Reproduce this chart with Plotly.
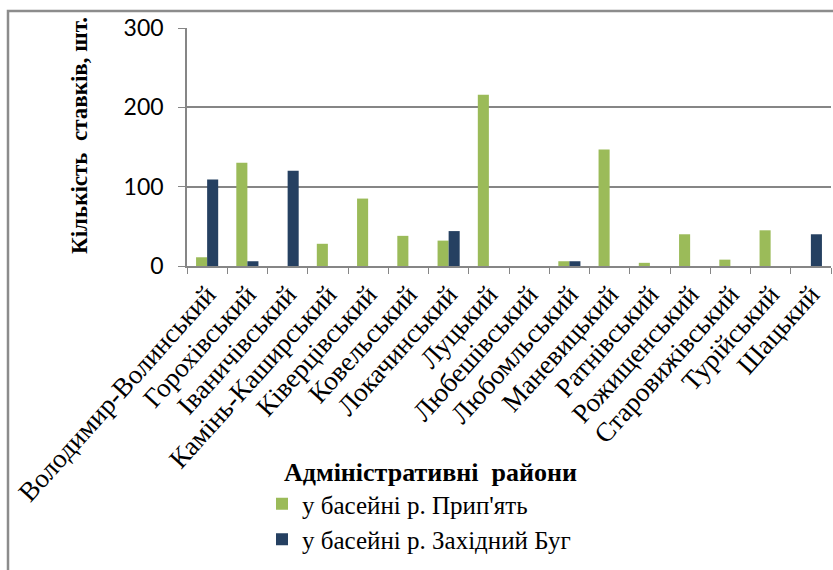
import plotly.graph_objects as go

districts = ["Володимир-Волинський", "Горохівський", "Іваничівський", "Камінь-Каширський",
             "Ківерцівський", "Ковельський", "Локачинський", "Луцький", "Любешівський",
             "Любомльський", "Маневицький", "Ратнівський", "Рожищенський", "Старовижівський",
             "Турійський", "Шацький"]
prypiat = [11, 130, 0, 28, 85, 38, 32, 216, 0, 6, 147, 4, 40, 8, 45, 0]
zakh_bug = [109, 6, 120, 0, 0, 0, 44, 0, 0, 6, 0, 0, 0, 0, 0, 40]
y_ticks = [0, 100, 200, 300]

W, H = 833, 570
L, R, T, B = 187, 2, 28, 304
pw, ph = W - L - R, H - T - B

def px(x):
    return (x - L) / pw

def py(y):
    return (H - B - y) / ph

fig = go.Figure()
fig.add_trace(go.Bar(x=districts, y=prypiat, name="у басейні р. Прип'ять",
                     marker=dict(color="#9BBB59", line=dict(width=0))))
fig.add_trace(go.Bar(x=districts, y=zakh_bug, name="у басейні р. Західний Буг",
                     marker=dict(color="#254061", line=dict(width=0))))

fig.update_layout(
    width=W, height=H,
    margin=dict(l=L, r=R, t=T, b=B, autoexpand=False),
    paper_bgcolor="white", plot_bgcolor="white",
    barmode="group", bargap=0.45, bargroupgap=0,
    showlegend=True,
    legend=dict(
        x=px(262), y=py(481), xanchor="left", yanchor="top",
        font=dict(family="Liberation Serif", size=25, color="black"),
        tracegroupgap=7, itemwidth=30, bgcolor="rgba(0,0,0,0)",
    ),
    annotations=[
        dict(text="<b>Адміністративні  райони</b>", xref="paper", yref="paper",
             x=px(282), y=py(472), xanchor="left", yanchor="middle", showarrow=False,
             font=dict(family="Liberation Serif", size=26, color="black")),
        dict(text="<b>Кількість  ставків, шт.</b>", xref="paper", yref="paper",
             x=px(79), y=py(135), xanchor="center", yanchor="middle", showarrow=False,
             textangle=-90,
             font=dict(family="Liberation Serif", size=23, color="black")),
    ],
    xaxis=dict(
        tickangle=-48, ticks="outside", tickson="boundaries", ticklen=6,
        tickcolor="#868686", showline=True, linecolor="#868686", linewidth=1.5,
        tickfont=dict(family="Liberation Serif", size=27, color="black"),
        showgrid=False, automargin=False,
    ),
    yaxis=dict(
        range=[0, 300], tickvals=y_ticks, ticks="outside", ticklen=7,
        tickcolor="#868686", showline=True, linecolor="#868686", linewidth=1.5,
        showgrid=True, gridcolor="#868686", gridwidth=1.5, zeroline=False,
        tickfont=dict(family="Lato", size=23, color="black"),
        ticklabelstandoff=10, automargin=False,
    ),
    shapes=[dict(type="path", xref="paper", yref="paper",
                 path=f"M {px(8)} {py(H + 5)} L {px(8)} {py(11)} L {px(W + 5)} {py(11)}",
                 line=dict(color="#8C8C8C", width=2.5))],
)

fig.write_html("out.html", config={"displayModeBar": False},
               post_script="document.body.style.margin='0';")
